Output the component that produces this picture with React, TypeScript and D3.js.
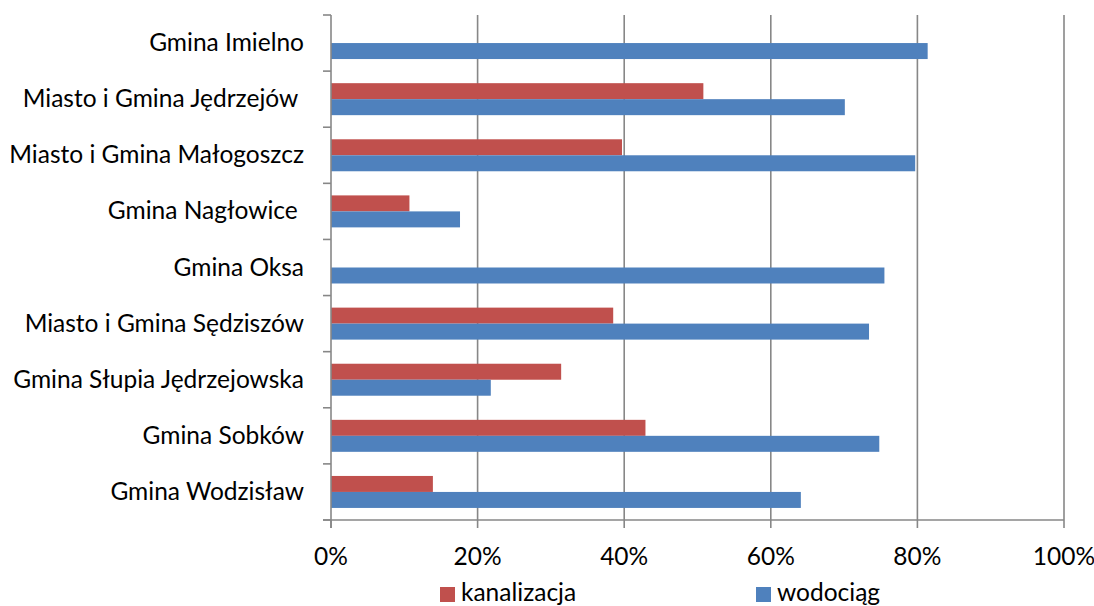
import React from "react";
import * as d3 from "d3";

const categories = [
  "Gmina Imielno",
  "Miasto i Gmina Jędrzejów ",
  "Miasto i Gmina Małogoszcz",
  "Gmina Nagłowice ",
  "Gmina Oksa",
  "Miasto i Gmina Sędziszów",
  "Gmina Słupia Jędrzejowska",
  "Gmina Sobków",
  "Gmina Wodzisław",
];
const kanalizacja = [0, 50.8, 39.7, 10.7, 0, 38.5, 31.4, 42.9, 13.9];
const wodociag = [81.4, 70.1, 79.7, 17.6, 75.5, 73.4, 21.8, 74.8, 64.1];
const seriesNames = ["kanalizacja", "wodociąg"];
const seriesColors = ["#C0504D", "#4F81BD"];
const xTicks = [0, 20, 40, 60, 80, 100];

const W = 1094;
const H = 606;
const left = 331;
const right = 1064;
const top = 15;
const bottom = 520;
const FONT = "Lato, 'Noto Sans', sans-serif";
const FS = 24.5;

export default function App() {
  const x = d3.scaleLinear().domain([0, 100]).range([left, right]);
  const y = d3
    .scaleBand<string>()
    .domain(categories)
    .range([top, bottom])
    .paddingInner(0.43)
    .paddingOuter(0.215);
  const sub = d3.scaleBand<string>().domain(seriesNames).range([0, y.bandwidth()]);
  const values = [kanalizacja, wodociag];
  const step = y.step();
  const boundaries = d3.range(categories.length + 1).map((i) => top + i * step);
  const gridColor = "#878787";

  return (
    <svg
      width={W}
      height={H}
      style={{ position: "absolute", left: 0, top: 0, background: "#fff" }}
      fontFamily={FONT}
    >
      {xTicks.slice(1).map((t) => (
        <line key={"g" + t} x1={x(t)} x2={x(t)} y1={top} y2={bottom} stroke={gridColor} strokeWidth={1.6} />
      ))}
      {categories.map((c, i) =>
        values.map((vals, s) =>
          vals[i] > 0 ? (
            <rect
              key={c + s}
              x={x(0)}
              y={(y(c) as number) + (sub(seriesNames[s]) as number)}
              width={x(vals[i]) - x(0)}
              height={sub.bandwidth()}
              fill={seriesColors[s]}
            />
          ) : null
        )
      )}
      <line x1={left} x2={left} y1={top} y2={bottom + 8} stroke={gridColor} strokeWidth={1.6} />
      {boundaries.map((b, i) => (
        <line key={"yt" + i} x1={left - 8} x2={left} y1={b} y2={b} stroke={gridColor} strokeWidth={1.6} />
      ))}
      <line x1={left - 8} x2={right} y1={bottom} y2={bottom} stroke={gridColor} strokeWidth={1.6} />
      {xTicks.map((t) => (
        <line key={"xt" + t} x1={x(t)} x2={x(t)} y1={bottom} y2={bottom + 8} stroke={gridColor} strokeWidth={1.6} />
      ))}
      {xTicks.map((t) => (
        <text key={"xl" + t} x={x(t)} y={565} textAnchor="middle" fontSize={FS} fill="#000">
          {t + "%"}
        </text>
      ))}
      {categories.map((c) => (
        <text
          key={"cl" + c}
          x={304}
          y={(y(c) as number) + y.bandwidth() / 2 + 8}
          textAnchor="end"
          fontSize={FS}
          fill="#000"
          xmlSpace="preserve"
          style={{ whiteSpace: "pre" }}
        >
          {c}
        </text>
      ))}
      {seriesNames.map((n, i) => {
        const lx = [440, 756][i];
        return (
          <g key={"lg" + n}>
            <rect x={lx} y={587} width={15} height={15} fill={seriesColors[i]} />
            <text x={lx + 21} y={601} fontSize={FS} fill="#000">
              {n}
            </text>
          </g>
        );
      })}
    </svg>
  );
}
